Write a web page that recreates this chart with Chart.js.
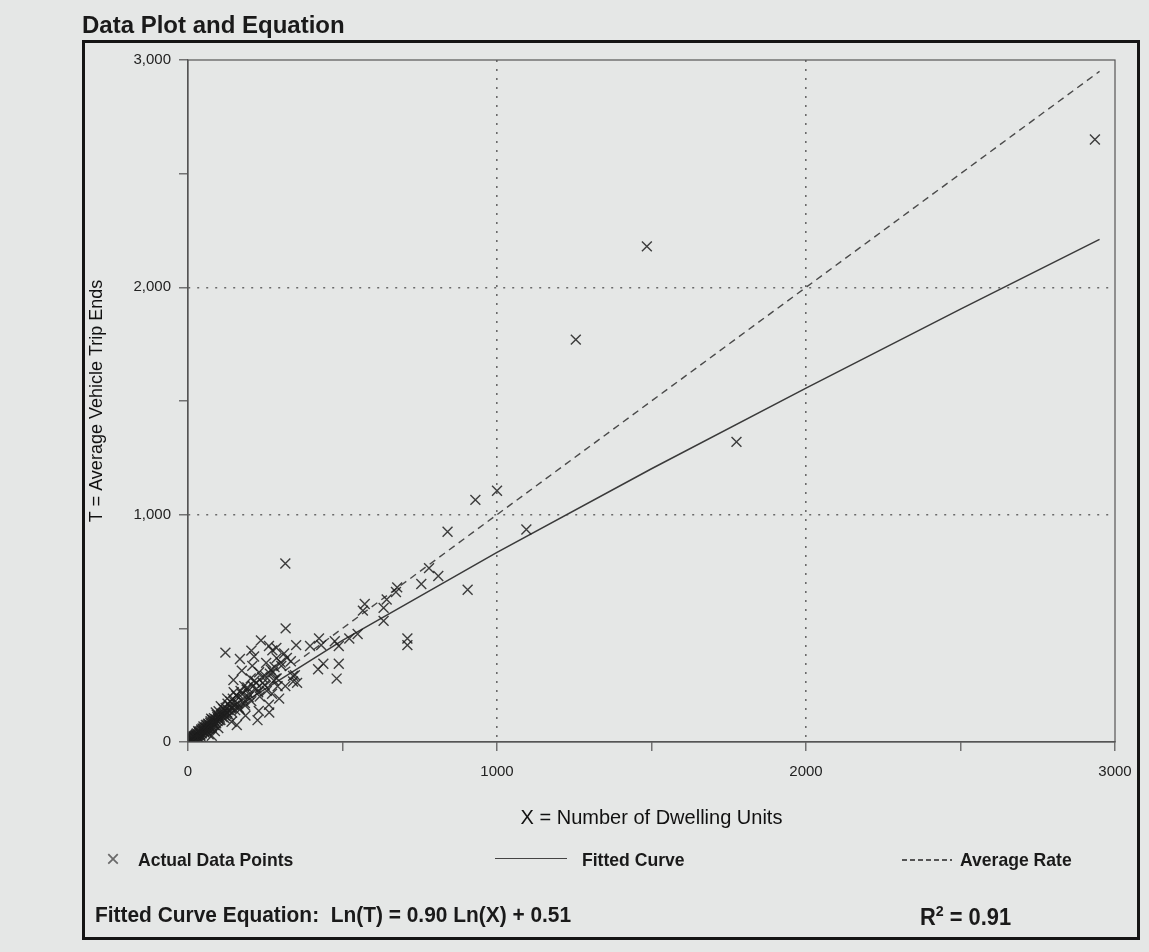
<!DOCTYPE html>
<html>
<head>
<meta charset="utf-8">
<title>Data Plot and Equation</title>
<script src="https://cdn.jsdelivr.net/npm/chart.js@4.4.1/dist/chart.umd.min.js"></script>
<style>
  html, body { margin: 0; padding: 0; background: #e5e7e6; }
  #wrap { position: relative; width: 1149px; height: 952px; overflow: hidden;
          font-family: "Liberation Sans", Arial, sans-serif; color: #1a1a1a; }
  #frame { position: absolute; left: 82px; top: 40px; width: 1058px; height: 900px;
           border: 3px solid #151515; box-sizing: border-box; }
  #title { position: absolute; left: 82px; top: 11px; font-size: 24px; font-weight: bold; }
  canvas { position: absolute; left: 0; top: 0; }
  .narrow { position: absolute; font-weight: bold; white-space: nowrap;
            transform: scaleX(0.95); transform-origin: left center; }
  .leg { font-size: 18.5px; top: 849px; }
  .eq { font-size: 22px; top: 902px; }
  .mark { position: absolute; left: 106px; top: 845px; font-size: 24px; color: #6a6a6a; }
  .solid { position: absolute; left: 495px; top: 858px; width: 72px; border-top: 1.5px solid #444; }
  .dash { position: absolute; left: 902px; top: 859px; width: 50px; height: 1.5px;
          background: repeating-linear-gradient(90deg, #555 0 5px, transparent 5px 8px); }
</style>
</head>
<body>
<div id="wrap">
  <canvas id="tripChart" width="1149" height="952"></canvas>
  <div id="frame"></div>
  <div id="title">Data Plot and Equation</div>
  <div class="mark">×</div>
  <div class="narrow leg" style="left:138px">Actual Data Points</div>
  <div class="solid"></div>
  <div class="narrow leg" style="left:582px">Fitted Curve</div>
  <div class="dash"></div>
  <div class="narrow leg" style="left:960px">Average Rate</div>
  <div class="narrow eq" style="left:95px">Fitted Curve Equation:&nbsp; Ln(T) = 0.90 Ln(X) + 0.51</div>
  <div class="narrow eq" style="left:920px; font-size:23px">R<sup style="font-size:15px">2</sup> = 0.91</div>
</div>
<script>
// data points (X = dwelling units, T = trip ends)
const dwellingUnits = [
  2935, 1485, 1255, 1775, 1000, 930, 1095, 840, 905, 810, 780, 755, 677, 673, 643, 633,
  572, 566, 633, 710, 710, 549, 424, 431, 475, 488, 522, 315, 316, 350, 438, 421,
  488, 481, 340, 340, 121, 236, 205, 168, 262, 286, 395,
  273, 214, 253, 287, 302, 230, 275, 203, 147, 182, 242, 287, 148, 127, 227, 272,
  315, 346, 353, 295, 262, 229, 225, 158, 263, 184, 106, 90, 75, 119, 58, 43,
  32, 21, 15, 9, 4, 86, 102, 70, 54, 127, 168, 141, 186, 196, 174, 208,
  311, 333, 44, 67, 33, 50, 27, 39, 87, 98, 77,
  12, 18, 25, 30, 36, 48, 60, 65, 80, 95, 110, 120, 135, 150, 160, 175,
  190, 210, 220, 250, 265, 280, 300, 320, 8, 14, 22, 28, 40, 55, 62, 72, 85, 100,
  5, 7, 10, 11, 13, 16, 17, 19, 20, 23, 24, 26, 29, 31, 34, 35, 37, 38, 41, 42,
  45, 46, 47, 51, 52, 53, 56, 57, 59, 61, 63, 64, 66, 68, 69, 71, 73, 74, 76, 78,
  79, 81, 83, 84, 88, 89, 91, 93, 96, 97, 99, 103, 105, 108, 112, 114, 116, 118, 122, 125,
  128, 131, 133, 137, 139, 143, 145, 150, 153, 156, 160, 165, 170, 178, 185, 192,
  198, 205, 215, 222, 232, 240, 248, 255, 268, 278, 290
];
const tripEnds = [
  2650, 2180, 1770, 1320, 1105, 1065, 935, 925, 670, 730, 765, 695, 680, 660, 627, 590,
  607, 578, 533, 455, 426, 475, 455, 426, 443, 422, 455, 785, 500, 426, 344, 320,
  344, 279, 291, 266, 393, 447, 402, 365, 422, 414, 422,
  403, 376, 348, 369, 335, 307, 307, 280, 273, 246, 260, 280, 219, 191, 219, 212,
  246, 294, 260, 191, 164, 137, 96, 75, 130, 171, 157, 130, 102, 116, 75, 55,
  34, 20, 14, 7, 4, 75, 96, 61, 41, 130, 143, 89, 116, 198, 314, 335,
  389, 355, 20, 34, 48, 68, 27, 14, 48, 61, 27,
  18, 25, 30, 22, 40, 55, 50, 80, 90, 110, 125, 140, 160, 175, 200, 210,
  230, 245, 260, 290, 300, 330, 350, 370, 12, 9, 28, 38, 32, 62, 70, 85, 95, 115,
  8, 5, 10, 15, 12, 20, 14, 22, 17, 24, 19, 33, 27, 29, 31, 44, 35, 46, 42, 50,
  38, 47, 60, 48, 58, 45, 52, 66, 60, 58, 75, 62, 57, 78, 70, 66, 92, 73, 80, 70,
  98, 84, 76, 105, 88, 100, 82, 120, 92, 104, 135, 108, 98, 118, 110, 145, 128, 105, 150, 122,
  168, 140, 118, 178, 150, 130, 190, 160, 140, 205, 170, 150, 225, 190, 160, 240,
  210, 180, 270, 235, 200, 285, 250, 225, 318, 270, 245
];

// fitted curve Ln(T) = 0.90 Ln(X) + 0.51
const fitX = [20, 100, 500, 1000, 1500, 2000, 2500, 2950];
const fitT = [25, 105, 447, 834, 1202, 1557, 1904, 2211];

// average rate line
const avgX = [0, 2950];
const avgT = [0, 2950];

const gridValues = [1000, 2000];

const toPoints = (xs, ys) => xs.map((x, i) => ({ x: x, y: ys[i] }));

const boxPlugin = {
  id: "plotBox",
  afterDatasetsDraw(chart) {
    const a = chart.chartArea;
    const ctx = chart.ctx;
    ctx.save();
    ctx.strokeStyle = "#555";
    ctx.lineWidth = 1.2;
    ctx.strokeRect(a.left, a.top, a.right - a.left, a.bottom - a.top);
    ctx.restore();
  }
};

const gridColor = c => gridValues.includes(c.tick.value) ? "#6a6a6a" : "rgba(0,0,0,0)";

new Chart(document.getElementById("tripChart"), {
  type: "scatter",
  data: {
    datasets: [
      {
        label: "Actual Data Points",
        data: toPoints(dwellingUnits, tripEnds),
        pointStyle: "crossRot",
        pointRadius: 7,
        borderColor: "rgba(30,30,30,0.85)",
        borderWidth: 1.4,
        showLine: false
      },
      {
        label: "Fitted Curve",
        data: toPoints(fitX, fitT),
        showLine: true,
        pointRadius: 0,
        borderColor: "#3a3a3a",
        borderWidth: 1.5,
        fill: false
      },
      {
        label: "Average Rate",
        data: toPoints(avgX, avgT),
        showLine: true,
        pointRadius: 0,
        borderColor: "#4a4a4a",
        borderWidth: 1.4,
        borderDash: [7, 5],
        fill: false
      }
    ]
  },
  options: {
    responsive: false,
    animation: false,
    layout: { padding: { left: 86, top: 60, right: 34, bottom: 122 } },
    plugins: { legend: { display: false }, tooltip: { enabled: false } },
    scales: {
      x: {
        type: "linear",
        min: 0,
        max: 3000,
        afterFit(scale) { scale.height = 88; },
        ticks: {
          stepSize: 500,
          autoSkip: false,
          maxRotation: 0,
          padding: 12,
          color: "#222",
          font: { size: 15, family: "Liberation Sans" },
          callback: v => v % 1000 === 0 ? String(v) : ""
        },
        grid: { color: gridColor, lineWidth: 1.6, tickLength: 9, tickColor: "#555", tickWidth: 1.2 },
        border: { color: "#555", width: 1.2, dash: [2, 7] },
        title: {
          display: true,
          text: "X = Number of Dwelling Units",
          color: "#111",
          font: { size: 20, family: "Liberation Sans" },
          padding: { top: 4, bottom: 0 }
        }
      },
      y: {
        type: "linear",
        min: 0,
        max: 3000,
        afterFit(scale) { scale.width = 102; },
        ticks: {
          stepSize: 500,
          autoSkip: false,
          padding: 8,
          color: "#222",
          font: { size: 15, family: "Liberation Sans" },
          callback: v => v % 1000 === 0 ? v.toLocaleString("en-US") : ""
        },
        grid: { color: gridColor, lineWidth: 1.6, tickLength: 9, tickColor: "#555", tickWidth: 1.2 },
        border: { color: "#555", width: 1.2, dash: [2, 7] },
        title: {
          display: true,
          text: "T = Average Vehicle Trip Ends",
          color: "#111",
          font: { size: 18, family: "Liberation Sans" },
          padding: { top: 0, bottom: 0 }
        }
      }
    }
  },
  plugins: [boxPlugin]
});
</script>
</body>
</html>
